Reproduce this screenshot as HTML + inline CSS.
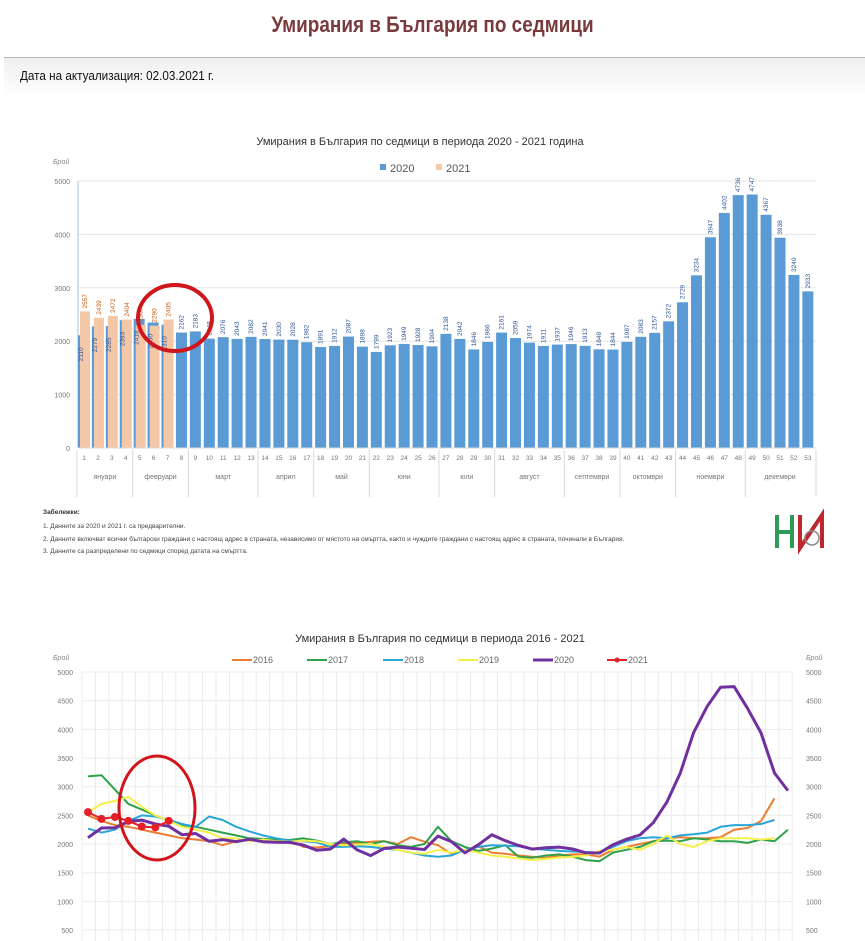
<!DOCTYPE html>
<html><head><meta charset="utf-8">
<style>
html,body{margin:0;padding:0;background:#fff;width:865px;height:941px;overflow:hidden}
body{font-family:"Liberation Sans","DejaVu Sans",sans-serif;position:relative}
#t{position:absolute;top:12px;left:0;width:865px;text-align:center;font-size:22px;font-weight:bold;color:#7a3a3c;transform:scaleX(0.86);}
#band{position:absolute;top:57px;left:4px;width:861px;height:40px;border-top:1px solid #b8b8b8;background:linear-gradient(#f0f0f0,#fff)}
#d{position:absolute;top:68px;left:20px;font-size:13px;color:#111;transform-origin:0 0;transform:scaleX(0.9)}
svg{position:absolute;left:0;top:0}
</style></head><body>
<div id="t">Умирания в България по седмици</div>
<div id="band"></div>
<div id="d">Дата на актуализация: 02.03.2021 г.</div>
<svg id="s" width="865" height="941" xmlns="http://www.w3.org/2000/svg"></svg>
<script>
var S=document.getElementById('s'),h='';
function T(x,y,t,o){o=o||{};h+='<text x="'+x+'" y="'+y+'" font-size="'+(o.fs||8)+'" fill="'+(o.c||'#666')+'" text-anchor="'+(o.a||'start')+'"'+(o.w?' font-weight="bold"':'')+(o.i?' font-style="italic"':'')+(o.r?' transform="rotate(-90 '+x+' '+y+')"':'')+'>'+t+'</text>';}
function L(x1,y1,x2,y2,c,w){h+='<line x1="'+x1+'" y1="'+y1+'" x2="'+x2+'" y2="'+y2+'" stroke="'+c+'" stroke-width="'+(w||1)+'"/>';}
T(420,145,'Умирания в България по седмици в периода 2020 - 2021 година',{fs:11,c:'#333',a:'middle'});
h+='<rect x="380" y="164" width="6" height="6" fill="#5b9bd5"/><rect x="436" y="164" width="6" height="6" fill="#f4c7a6"/>';
T(390,172,'2020',{fs:11,c:'#555'});T(446,172,'2021',{fs:11,c:'#555'});
T(53,164,'Брой',{fs:7,c:'#888',i:1});
var y0=448,k=267/5000;
for(var v=0;v<=5000;v+=1000){var y=y0-v*k;L(78,y,816,y,'#e6e6e6');T(70,y+3,v,{fs:7,a:'end',c:'#777'});}
L(78,181,78,448,'#9dc3e6');
var d20=[2110,2279,2285,2393,2418,2350,2310,2162,2183,2048,2076,2043,2082,2041,2030,2028,1982,1891,1912,2087,1898,1799,1923,1949,1928,1904,2138,2042,1846,1986,2161,2059,1974,1911,1937,1946,1913,1848,1844,1987,2083,2157,2372,2729,3234,3947,4402,4736,4747,4367,3938,3240,2933];
var d21=[2557,2439,2472,2404,2305,2290,2405];
var sp=13.92;
for(var i=0;i<53;i++){var cx=84+i*sp,v=d20[i],y=y0-v*k;
 if(i<7){h+='<rect x="'+(cx-6)+'" y="'+y+'" width="11" height="'+(v*k)+'" fill="#5b9bd5"/>';}
 else h+='<rect x="'+(cx-5.5)+'" y="'+y+'" width="11" height="'+(v*k)+'" fill="#5b9bd5"/>';
 T(84+i*sp,460,i+1,{fs:6.5,a:'middle',c:'#777'});
}
for(var i=0;i<7;i++){var cx=84+i*sp,v=d21[i],y=y0-v*k;h+='<rect x="'+(cx-4)+'" y="'+y+'" width="10" height="'+(v*k)+'" fill="#f4c7a6"/>';T(cx+3,y-3,v,{fs:6.5,c:'#c55a11',r:1});T(cx-1,y0-d20[i]*k+26,d20[i],{fs:6.5,c:'#2f5597',r:1});}
for(var i=7;i<53;i++){var cx=84+i*sp,y=y0-d20[i]*k;T(cx+2,y-3,d20[i],{fs:6.5,c:'#2f5597',r:1});}
var m=[['януари',1,4],['февруари',5,8],['март',9,13],['април',14,17],['май',18,21],['юни',22,26],['юли',27,30],['август',31,35],['септември',36,39],['октомври',40,43],['ноември',44,48],['декември',49,53]];
L(78,448,816,448,'#d9d9d9');
m.forEach(function(q){var a=84+(q[1]-1)*sp-sp/2,b=84+(q[2]-1)*sp+sp/2;L(a,450,a,497,'#d9d9d9');T((a+b)/2,479,q[0],{fs:7,a:'middle',c:'#777'});});
L(816,450,816,497,'#d9d9d9');
h+='<ellipse cx="175" cy="318" rx="37" ry="33" fill="none" stroke="#d0161c" stroke-width="4"/>';
T(43,514,'Забележки:',{fs:6.5,c:'#333',w:1});
T(43,528,'1. Данните за 2020 и 2021 г. са предварителни.',{fs:6.5,c:'#444'});
T(43,541,'2. Данните включват всички български граждани с настоящ адрес в страната, независимо от мястото на смъртта, както и чуждите граждани с настоящ адрес в страната, починали в България.',{fs:6.5,c:'#444'});
T(43,553,'3. Данните са разпределени по седмици според датата на смъртта.',{fs:6.5,c:'#444'});
h+='<path d="M777 515 V548 M777 532 H792 M792 515 V548" stroke="#2e9a57" stroke-width="4" fill="none"/><path d="M800 515 V548 L822 515 V548" stroke="#c0262d" stroke-width="4" fill="none"/><circle cx="812" cy="538" r="7" fill="none" stroke="#888" stroke-width="1.5"/>';
T(440,642,'Умирания в България по седмици в периода 2016 - 2021',{fs:11,c:'#333',a:'middle'});
var cols={'2016':'#ed7d31','2017':'#2ea24a','2018':'#2aa6d6','2019':'#f5f04a','2020':'#7030a0','2021':'#e32026'};
var lx={'2016':232,'2017':307,'2018':383,'2019':458,'2020':533,'2021':607};
for(var kk in lx){L(lx[kk],660,lx[kk]+20,660,cols[kk],kk=='2020'?3:2);if(kk=='2021')h+='<circle cx="'+(lx[kk]+10)+'" cy="660" r="2.5" fill="#e32026"/>';T(lx[kk]+21,663,kk,{fs:9,c:'#666'});}
T(53,660,'Брой',{fs:7,c:'#888',i:1});T(806,660,'Брой',{fs:7,c:'#888',i:1});
var Y=function(v){return 958.7-v*0.05733;};
for(var v=500;v<=5000;v+=500){var y=Y(v);L(82,y,792,y,'#ebebeb');T(73,y+3,v,{fs:7,a:'end',c:'#777'});T(806,y+3,v,{fs:7,c:'#777'});}
for(var i=0;i<=53;i++){var x=82+i*13.4;L(x,672,x,941,'#ebebeb');}
var X=function(i){return 88+i*13.46;};
var D={
'2016':[2500,2400,2330,2300,2250,2200,2150,2100,2080,2050,1980,2050,2080,2060,2080,2070,1950,1940,1960,2000,2020,2040,2050,2000,2120,2040,1980,1830,1900,1960,1850,1830,1800,1780,1760,1800,1820,1820,1780,1900,1950,2000,2050,2100,2120,2100,2100,2120,2250,2280,2400,2800],
'2017':[3180,3200,2950,2700,2600,2500,2400,2330,2300,2250,2200,2150,2100,2090,2080,2070,2100,2060,2000,2030,2050,2000,2050,1980,1950,2000,2300,2050,1950,1880,1920,1980,1780,1760,1800,1820,1780,1720,1700,1850,1900,1950,2050,2060,2050,2100,2080,2050,2050,2020,2080,2050,2250],
'2018':[2270,2200,2250,2400,2500,2480,2420,2350,2300,2480,2420,2300,2220,2150,2100,2060,2050,2030,1950,1950,1960,1950,1920,1900,1850,1800,1780,1800,1900,1950,1980,1970,1960,1920,1900,1880,1870,1860,1850,1950,2050,2100,2120,2100,2150,2170,2200,2300,2330,2330,2350,2420],
'2019':[2550,2700,2750,2820,2650,2500,2400,2300,2250,2200,2100,2100,2050,2080,2050,2040,2060,2050,2000,1980,1990,2000,1950,1900,1850,1830,1900,1850,1900,1850,1800,1780,1750,1720,1740,1760,1780,1800,1880,1900,1950,1900,2000,2150,2000,1950,2050,2100,2100,2100,2080,2100],
'2020':d20,'2021':d21};
['2016','2017','2018','2019','2020','2021'].forEach(function(kk){var p=D[kk].map(function(v,i){return X(i).toFixed(1)+','+Y(v).toFixed(1);}).join(' ');h+='<polyline points="'+p+'" fill="none" stroke="'+cols[kk]+'" stroke-width="'+(kk=='2020'?3:2)+'" stroke-linejoin="round"/>';});
d21.forEach(function(v,i){h+='<circle cx="'+X(i)+'" cy="'+Y(v)+'" r="4" fill="#e32026"/>';});
h+='<ellipse cx="157" cy="808" rx="38" ry="52" fill="none" stroke="#d0161c" stroke-width="3"/>';
S.innerHTML=h;
</script>
</body></html>
